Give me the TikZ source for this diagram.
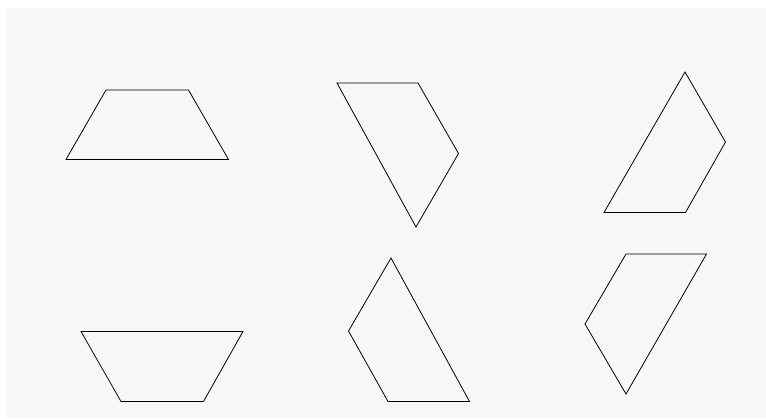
\documentclass[tikz,border=0pt]{standalone}
\usepackage{tikz}

\definecolor{panelgray}{HTML}{F7F7F7}

\begin{document}
\begin{tikzpicture}[x=1pt,y=-1pt, poly/.style={black, line width=0.8pt, line join=miter}]
\useasboundingbox (0,0) rectangle (766,418);
\fill[white] (0,0) rectangle (766,418);
\fill[panelgray] (7,8) rectangle (766,418);
% top row
\draw[poly] (106,90) -- (188.5,90) -- (228.5,159.5) -- (66,159.5) -- cycle;
\draw[poly] (337,83) -- (418,83) -- (458.5,153.5) -- (416,227) -- cycle;
\draw[poly] (685,72) -- (725.5,142) -- (685.5,212.5) -- (604,212.5) -- cycle;
% bottom row
\draw[poly] (81,331.5) -- (243,331.5) -- (203.5,401.5) -- (121,401.5) -- cycle;
\draw[poly] (391,258) -- (469.5,401.5) -- (388,401.5) -- (348.5,331) -- cycle;
\draw[poly] (626,254) -- (706.5,254) -- (626,394) -- (585,324) -- cycle;
\end{tikzpicture}
\end{document}
